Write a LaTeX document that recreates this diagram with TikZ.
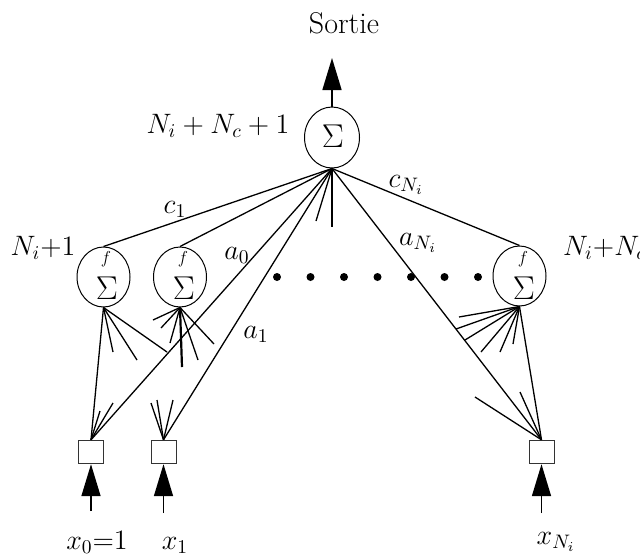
\documentclass[tikz,border=0pt]{standalone}
\usepackage{graphicx}
\usetikzlibrary{arrows.meta,shapes.geometric}
\newcommand{\mylab}[1]{\scalebox{1.95}{#1}}
\newcommand{\mysig}[1]{\scalebox{1.91}{#1}}
\begin{document}
\begin{tikzpicture}[x=1pt,y=-1pt,
  wire/.style={line width=1.3pt},
  thickwire/.style={line width=2.2pt},
  neuron/.style={draw, ellipse, line width=1pt, minimum width=53pt, minimum height=60pt, inner sep=0pt},
  inbox/.style={draw=black!80, rectangle, line width=0.9pt, minimum width=25pt, minimum height=23.5pt, inner sep=0pt},
  dotnode/.style={circle, fill=black, minimum size=8pt, inner sep=0pt},
  lab/.style={font=\fontsize{14.4}{17}\selectfont, inner sep=0pt, anchor=base},
  sig/.style={font=\fontsize{17.28}{20}\selectfont, inner sep=0pt},
  fsmall/.style={font=\fontsize{17.28}{19}\selectfont, inner sep=0pt},
  bigarrow/.style={line width=1.6pt, -{Triangle[width=19pt,length=32pt]}}
]
\useasboundingbox (0,0) rectangle (640,558);

% neurons
\node[neuron, minimum width=55pt, minimum height=61pt] (top) at (332,137.5) {};
\node[sig] (stop) at (333,136) {\mysig{$\Sigma$}};
\node[neuron] (h1) at (103.5,277) {};
\node[neuron] (h2) at (180,277) {};
\node[neuron] (h3) at (519.5,276) {};
\node[sig] (s1) at (107,288) {\mysig{$\Sigma$}};
\node[sig] (s2) at (184,288) {\mysig{$\Sigma$}};
\node[sig] (s3) at (524,288) {\mysig{$\Sigma$}};
\node[fsmall] (f1) at (106,259) {$f$};
\node[fsmall] (f2) at (183,259) {$f$};
\node[fsmall] (f3) at (523,259) {$f$};

% dots
\foreach \i/\x in {1/277,2/310.5,3/344,4/377.5,5/411,6/444.5,7/478}
  \node[dotnode] (d\i) at (\x,277) {};

% input boxes
\node[inbox] (b0) at (91,452) {};
\node[inbox] (b1) at (163.5,452) {};
\node[inbox] (bN) at (541.5,452) {};

% free ends
\coordinate (out) at (332,58);
\coordinate (i0) at (91,511);
\coordinate (i1) at (163.5,513);
\coordinate (iN) at (541.5,513);

\coordinate (t1) at (316,221);
\coordinate (t2) at (332,227);

\coordinate (p1) at (113,352);
\coordinate (p2) at (137,360);
\coordinate (p3) at (167,352);

\coordinate (q1) at (153,320);
\coordinate (q2) at (161,328);
\coordinate (q3) at (170,343);
\coordinate (q4) at (182,367);
\coordinate (q5) at (198,360);
\coordinate (q6) at (214,344);

\coordinate (r1) at (459,317);
\coordinate (r2) at (456,329);
\coordinate (r3) at (465,340);
\coordinate (r4) at (481,352);
\coordinate (r5) at (500,352);
\coordinate (r6) at (513,344);

\coordinate (u1) at (100,411);
\coordinate (u2) at (113,403);
\coordinate (v1) at (151,403);
\coordinate (v2) at (157,400);
\coordinate (v3) at (173,400);
\coordinate (w1) at (475,397);
\coordinate (w2) at (520,392);

% arrows
\draw[bigarrow] (top.north) -- (out);
\draw[bigarrow] (i0) -- (b0.south);
\draw[bigarrow] (i1) -- (b1.south);
\draw[bigarrow] (iN) -- (bN.south);

% output layer connections
\draw[wire] (top.south) -- (h1.north);
\draw[wire] (top.south) -- (h2.north);
\draw[wire] (top.south) -- (h3.north);
\draw[wire] (top.south) -- (b0.north);
\draw[wire] (top.south) -- (b1.north);
\draw[wire] (top.south) -- (bN.north);
\draw[wire] (top.south) -- (t1);
\draw[thickwire] (top.south) -- (t2);

% hidden connections
\draw[wire] (h1.south) -- (b0.north);
\foreach \c in {p1,p2,p3} \draw[wire] (h1.south) -- (\c);
\foreach \c in {q1,q2,q3,q5,q6} \draw[wire] (h2.south) -- (\c);
\draw[thickwire] (h2.south) -- (q4);
\draw[wire] (h3.south) -- (bN.north);
\foreach \c in {r1,r2,r3,r4,r5,r6} \draw[wire] (h3.south) -- (\c);

% input stubs
\foreach \c in {u1,u2} \draw[wire] (b0.north) -- (\c);
\foreach \c in {v1,v2,v3} \draw[wire] (b1.north) -- (\c);
\foreach \c in {w1,w2} \draw[wire] (bN.north) -- (\c);

% labels
\node[lab, font=\fontsize{30}{32}\selectfont] (sortie) at (344,33) {Sortie};
\node[lab] (ltop) at (218,133) {\mylab{$N_i + N_c + 1$}};
\node[lab] (lh1) at (43,255) {\mylab{$N_i{+}1$}};
\node[lab, anchor=base west] (lh3) at (563,255) {\mylab{$N_i{+}N_c$}};
\node[lab] (lc1) at (175,213) {\mylab{$c_1$}};
\node[lab] (la0) at (237,259) {\mylab{$a_0$}};
\node[lab] (la1) at (256,338) {\mylab{$a_1$}};
\node[lab] (lcN) at (406,187) {\mylab{$c_{N_i}$}};
\node[lab] (laN) at (418,245) {\mylab{$a_{N_i}$}};
\node[lab] (lx0) at (97,549) {\mylab{$x_0{=}1$}};
\node[lab] (lx1) at (175,549) {\mylab{$x_1$}};
\node[lab] (lxN) at (556,544) {\mylab{$x_{N_i}$}};
\end{tikzpicture}
\end{document}
